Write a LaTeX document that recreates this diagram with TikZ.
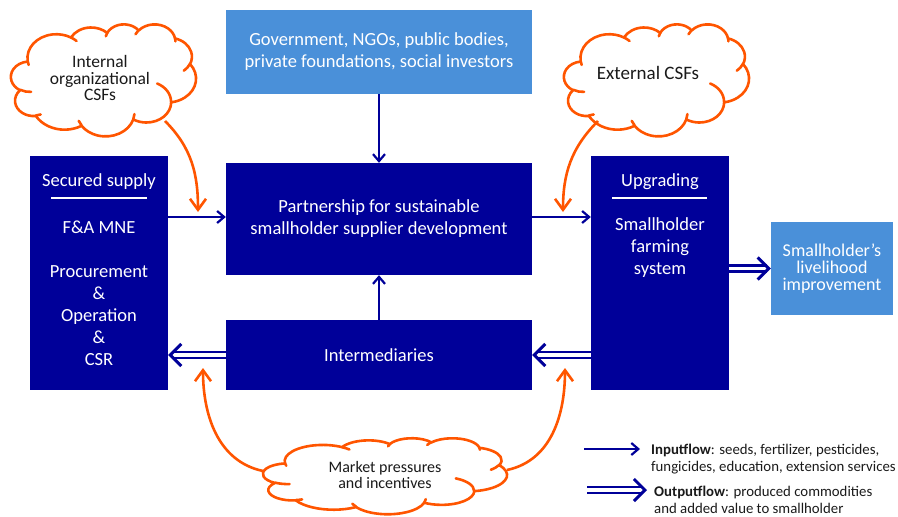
\documentclass[tikz,border=0pt]{standalone}
\usepackage{fontspec}
\setmainfont{Carlito}
\usetikzlibrary{arrows.meta,calc}
\definecolor{dkblue}{HTML}{000099}
\definecolor{ltblue}{HTML}{4A90D9}
\definecolor{orng}{HTML}{FF5500}
\definecolor{txtdark}{HTML}{1A1A1A}
% PowerPoint-like cloud outline: #1 left, #2 top, #3 width, #4 height (in px)
\newcommand\pptcloud[4]{%
  \pgfmathsetmacro\cldx{#3/432}\pgfmathsetmacro\cldy{#4/432}%
  \begin{scope}[shift={(#1,-#2)}, x=\cldx pt, y=-\cldy pt]
    \filldraw[cloudline, fill=white] (39.00,143.70)
      arc[start angle=-187.75, delta angle=128.11, x radius=67.53, y radius=91.90]
      arc[start angle=-152.02, delta angle=106.57, x radius=53.33, y radius=72.67]
      arc[start angle=-153.49, delta angle=116.16, x radius=43.65, y radius=59.45]
      arc[start angle=-139.73, delta angle=129.51, x radius=48.57, y radius=65.95]
      arc[start angle=-74.77, delta angle=97.98, x radius=53.33, y radius=72.73]
      arc[start angle=-37.53, delta angle=119.39, x radius=67.75, y radius=92.20]
      arc[start angle=0.46, delta angle=121.52, x radius=57.85, y radius=78.67]
      arc[start angle=16.84, delta angle=129.40, x radius=67.52, y radius=92.15]
      arc[start angle=58.98, delta angle=91.22, x radius=77.20, y radius=105.43]
      arc[start angle=83.31, delta angle=139.81, x radius=43.60, y radius=59.18]
      arc[start angle=120.36, delta angle=143.75, x radius=43.45, y radius=59.45]
      -- cycle;
    \draw[cloudline]
      (46.93,261.77) arc[start angle=85.54, delta angle=34.82, x radius=43.45, y radius=59.45]
      (69.28,348.99) arc[start angle=68.24, delta angle=15.07, x radius=43.60, y radius=59.18]
      (164.78,390.90) arc[start angle=146.24, delta angle=12.23, x radius=67.52, y radius=92.15]
      (288.27,347.51) arc[start angle=4.74, delta angle=12.10, x radius=67.52, y radius=92.15]
      (341.29,229.54) arc[start angle=-64.03, delta angle=64.49, x radius=57.85, y radius=78.67]
      (417.98,153.54) arc[start angle=23.21, delta angle=26.44, x radius=53.33, y radius=72.73]
      (383.24,54.26) arc[start angle=-10.22, delta angle=11.04, x radius=48.57, y radius=65.95]
      (290.78,39.52) arc[start angle=-156.29, delta angle=16.56, x radius=48.57, y radius=65.95]
      (221.41,47.20) arc[start angle=-167.72, delta angle=14.23, x radius=43.65, y radius=59.45]
      (140.00,51.92) arc[start angle=-59.64, delta angle=13.90, x radius=67.53, y radius=91.90]
      (41.27,157.89) arc[start angle=163.19, delta angle=9.06, x radius=67.53, y radius=91.90];
  \end{scope}}
\begin{document}
\begin{tikzpicture}[x=1pt,y=1pt,
  dbox/.style={fill=dkblue, draw=none, text=white, inner sep=0pt, align=center,
    font=\fontsize{18.5}{22}\selectfont},
  lbox/.style={fill=ltblue, draw=none, text=white, inner sep=0pt, align=center},
  boxtext/.style={text=white, inner sep=0pt, align=center, font=\fontsize{18.5}{22}\selectfont},
  cloudline/.style={draw=orng, line width=2.6pt, line join=round, line cap=round},
  cloudtext/.style={inner sep=0pt, align=center, text=txtdark},
  inarrow/.style={draw=dkblue, line width=2.2pt, -{Straight Barb[length=7pt,width=12pt]}},
  outarrow/.style={draw=dkblue, double=white, double distance=3.3pt, line width=2.7pt,
    -{Straight Barb[length=11pt,width=22pt,line width=3pt]}},
  orarrow/.style={draw=orng, line width=2.6pt, -{Straight Barb[length=11pt,width=16pt]}},
  legtext/.style={anchor=west, inner sep=0pt, align=left, text=txtdark,
    font=\fontsize{14.8}{17}\selectfont}
]
\useasboundingbox (0,0) rectangle (898,-517);

% main boxes
\node[lbox, minimum width=306pt, minimum height=84pt,
  font=\fontsize{18.5}{22}\selectfont] (gov) at (379,-52)
  {Government, NGOs, public bodies,\\private foundations, social investors};
\node[dbox, minimum width=306pt, minimum height=112pt] (part) at (379,-219)
  {Partnership for sustainable\\smallholder supplier development};
\node[dbox, minimum width=306pt, minimum height=70pt] (inter) at (379,-355)
  {Intermediaries};
\node[dbox, minimum width=138pt, minimum height=234pt] (supply) at (99,-273) {};
\node[dbox, minimum width=138pt, minimum height=234pt] (upg) at (660,-273) {};
\node[lbox, minimum width=122pt, minimum height=93pt,
  font=\fontsize{18}{17}\selectfont] (liv) at (832,-268.5)
  {Smallholder’s\\livelihood\\improvement};

% texts inside side boxes
\node[boxtext] (suphead) at (99,-182) {Secured supply};
\node[boxtext] (suptxt) at (99,-293)
  {F\&A MNE\\[22pt]Procurement\\\&\\Operation\\\&\\CSR};
\node[boxtext] (upghead) at (660,-182) {Upgrading};
\node[boxtext] (upgtxt) at (660,-248) {Smallholder\\farming\\system};
\draw[white, line width=1.6pt] (51,-198) -- (147,-198);
\draw[white, line width=1.6pt] (612,-198) -- (707,-198);

% clouds
\pptcloud{11}{24}{185}{112}
\pptcloud{564}{24}{185}{112}
\pptcloud{263}{438}{244}{76}
\node[cloudtext, font=\fontsize{17.5}{16.5}\selectfont] (intc) at (100,-78)
  {Internal\\organizational\\CSFs};
\node[cloudtext, font=\fontsize{19}{16}\selectfont] (extc) at (648,-73)
  {External CSFs};
\node[cloudtext, font=\fontsize{16}{16.5}\selectfont] (mkt) at (385,-475)
  {Market pressures\\and incentives};

% blue connectors
\draw[inarrow] (gov.south) -- (part.north);
\draw[inarrow] (inter.north) -- (part.south);
\coordinate (pw) at ($(part.west)+(0,2)$);
\coordinate (pe) at ($(part.east)+(0,2)$);
\draw[inarrow] (pw -| supply.east) -- (pw);
\draw[inarrow] (pe) -- (pe -| upg.west);
\draw[outarrow] (inter.west) -- (inter.west -| supply.east);
\draw[outarrow] (inter.east -| upg.west) -- (inter.east);
\draw[outarrow] (liv.west -| upg.east) -- (liv.west);

% orange connectors
\coordinate (srcA) at (165,-121);
\coordinate (srcB) at (598,-121);
\coordinate (srcC) at (263,-471);
\coordinate (srcD) at (507,-470);
\coordinate (tipA) at (198,-212);
\coordinate (tipB) at (563,-212);
\coordinate (tipC) at (203,-368);
\coordinate (tipD) at (565,-368);
\draw[orarrow] (srcA) to[out=-45, in=90] (tipA);
\draw[orarrow] (srcB) to[out=-135, in=90] (tipB);
\draw[orarrow] (srcC) to[out=168, in=-90] (tipC);
\draw[orarrow] (srcD) to[out=12, in=-90] (tipD);

% legend
\coordinate (la1) at (584,-449);
\coordinate (la2) at (640,-449);
\coordinate (lb1) at (587,-490);
\coordinate (lb2) at (647,-490);
\draw[inarrow] (la1) -- (la2);
\draw[outarrow] (lb1) -- (lb2);
\node[legtext] (lega) at (651,-459)
  {\textbf{Inputflow}: seeds, fertilizer, pesticides,\\fungicides, education, extension services};
\node[legtext] (legb) at (654,-500)
  {\textbf{Outputflow}: produced commodities\\and added value to smallholder};
\end{tikzpicture}
\end{document}
